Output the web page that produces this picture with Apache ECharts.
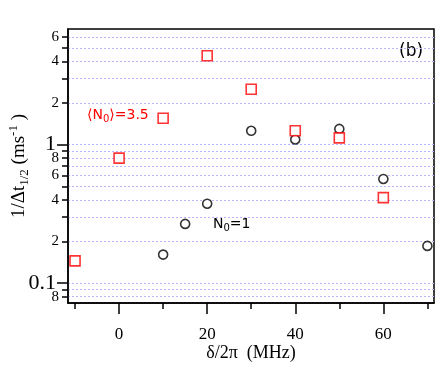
<!DOCTYPE html>
<html>
<head>
<meta charset="utf-8">
<script src="https://cdn.jsdelivr.net/npm/echarts@6/dist/echarts.min.js"></script>
<style>
  html, body { margin: 0; padding: 0; background: #fff; }
  #chart { width: 437px; height: 372px; }
</style>
</head>
<body>
<div id="chart"></div>
<script>
// detuning (MHz) and 1/dt_1/2 (ms^-1)
const redX = [-10, 0, 10, 20, 30, 40, 50, 60];
const redY = [0.145, 0.80, 1.55, 4.39, 2.51, 1.26, 1.12, 0.415];
const blackX = [10, 15, 20, 30, 40, 50, 60, 70];
const blackY = [0.161, 0.268, 0.375, 1.26, 1.09, 1.30, 0.566, 0.186];

const xMajorTicks = [0, 20, 40, 60];
const xMinorTicks = [-10, 10, 30, 50, 70];
const yMajorTicks = [0.1, 1];
const yMinorTicks = [0.08, 0.09, 0.2, 0.3, 0.4, 0.5, 0.6, 0.7, 0.8, 0.9, 2, 3, 4, 5, 6];
const yMinorLabels = [0.08, 0.2, 0.4, 0.6, 0.8, 2, 4, 6];

const serif = 'Liberation Serif';
const sans = 'DejaVu Sans';

function pairs(xs, ys) {
  return xs.map((x, i) => [x, ys[i]]);
}

// small labels show just the leading digit (8 for 0.08, 4 for 0.4 ...)
function leadDigit(v) {
  let d = v;
  while (d < 1) d *= 10;
  return String(Math.round(d));
}

const chart = echarts.init(document.getElementById('chart'));

const gridLine = {
  show: true,
  lineStyle: { color: '#b4b4ff', type: [2, 2], width: 1 },
};

const option = {
  animation: false,
  grid: {
    left: 68, top: 29, right: 3, bottom: 69,
    outerBoundsMode: 'none', containLabel: false,
    show: true, borderColor: '#000', borderWidth: 1.5,
  },
  xAxis: [
    {
      type: 'value', min: -11.6, max: 71.5,
      axisLine: { show: true, onZero: false, lineStyle: { color: '#000', width: 1.5 } },
      axisTick: { show: true, length: 11, lineStyle: { color: '#000', width: 1.5 }, customValues: xMajorTicks },
      axisLabel: {
        customValues: xMajorTicks, margin: 23,
        color: '#000', fontFamily: serif, fontSize: 17,
      },
      splitLine: { show: false },
      name: 'δ/2π  (MHz)', nameLocation: 'middle', nameGap: 41, nameMoveOverlap: false,
      nameTextStyle: { color: '#000', fontFamily: serif, fontSize: 18 },
    },
    {
      type: 'value', min: -11.6, max: 71.5, position: 'bottom',
      axisLine: { show: false, onZero: false },
      axisTick: { show: true, length: 6, lineStyle: { color: '#000', width: 1.5 }, customValues: xMinorTicks },
      axisLabel: { show: false },
      splitLine: { show: false },
    },
  ],
  yAxis: [
    {
      type: 'log', logBase: 10, min: 0.072, max: 6.84,
      axisLine: { show: true, onZero: false, lineStyle: { color: '#000', width: 1.5 } },
      axisTick: { show: true, length: 11, lineStyle: { color: '#000', width: 1.5 }, customValues: yMajorTicks },
      axisLabel: {
        customValues: yMajorTicks, margin: 12,
        formatter: v => (v >= 1 ? '1' : '0.1'),
        color: '#000', fontFamily: serif, fontSize: 22,
      },
      splitLine: gridLine,
      name: '{a|1/Δt}{sub|1/2}{a| (ms}{sup|-1}{a| )}',
      nameLocation: 'middle', nameRotate: 90, nameGap: 36, nameMoveOverlap: false,
      nameTextStyle: {
        color: '#000', fontFamily: serif, fontSize: 19,
        rich: {
          a: { fontFamily: serif, fontSize: 19, color: '#000' },
          sub: { fontFamily: serif, fontSize: 13, color: '#000', padding: [10, 0, 0, 0] },
          sup: { fontFamily: serif, fontSize: 13, color: '#000', padding: [0, 0, 12, 0] },
        },
      },
    },
    {
      type: 'log', logBase: 10, min: 0.072, max: 6.84, position: 'left',
      axisLine: { show: false, onZero: false },
      axisTick: { show: true, length: 6, lineStyle: { color: '#000', width: 1.5 }, customValues: yMinorTicks },
      axisLabel: {
        customValues: yMinorLabels, margin: 9,
        formatter: v => leadDigit(v),
        color: '#000', fontFamily: serif, fontSize: 15,
      },
      splitLine: gridLine,
    },
  ],
  series: [
    {
      name: 'N0=1', type: 'scatter', symbol: 'circle', symbolSize: 9,
      itemStyle: { color: '#fff', borderColor: '#000', borderWidth: 1.6 },
      data: pairs(blackX, blackY),
      z: 3,
    },
    {
      name: '<N0>=3.5', type: 'scatter', symbol: 'rect', symbolSize: 10,
      itemStyle: { color: '#fff', borderColor: '#ff0000', borderWidth: 1.6 },
      data: pairs(redX, redY),
      z: 4,
    },
  ],
  graphic: [
    {
      type: 'text', left: 399, top: 43,
      style: { text: '(b)', fontFamily: sans, fontSize: 17, fill: '#000' },
    },
    {
      type: 'text', left: 87, top: 108,
      style: {
        text: '{a|⟨N}{s|0}{a|⟩=3.5}',
        rich: {
          a: { fontFamily: sans, fontSize: 14, fill: '#ff0000' },
          s: { fontFamily: sans, fontSize: 10, fill: '#ff0000', padding: [8, 0, 0, 0] },
        },
      },
    },
    {
      type: 'text', left: 213, top: 217,
      style: {
        text: '{a|N}{s|0}{a|=1}',
        rich: {
          a: { fontFamily: sans, fontSize: 14, fill: '#000' },
          s: { fontFamily: sans, fontSize: 10, fill: '#000', padding: [8, 0, 0, 0] },
        },
      },
    },
  ],
};

chart.setOption(option);
</script>
</body>
</html>
